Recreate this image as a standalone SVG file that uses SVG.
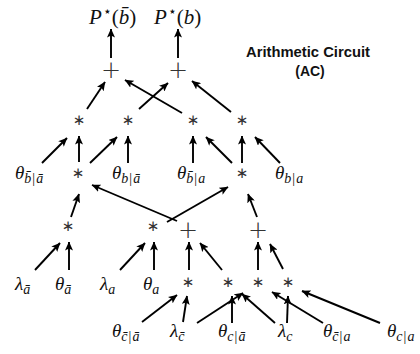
<svg xmlns="http://www.w3.org/2000/svg" width="420" height="354" viewBox="0 0 420 354">
<style>
.m{font-family:"Liberation Serif","DejaVu Serif",serif;fill:#111}
.v{font-size:19px}
.i{font-style:italic}
.s{font-size:14px;letter-spacing:1px}
.op{font-family:"DejaVu Sans","Liberation Sans",sans-serif;font-size:15px;fill:#333;text-anchor:middle;dominant-baseline:central}
.pl{font-family:"DejaVu Sans","Liberation Sans",sans-serif;font-weight:300;font-size:24px;fill:#333;text-anchor:middle;dominant-baseline:central}
.t{font-family:"Liberation Sans","Arial",sans-serif;font-weight:bold;font-size:14px;fill:#111;text-anchor:middle}
.e line{stroke:#000;stroke-width:1.9;marker-end:url(#ah)}
</style>
<defs>
<marker id="ah" markerUnits="userSpaceOnUse" markerWidth="9" markerHeight="8" refX="8.5" refY="4" orient="auto">
<path d="M0,0 L9,4 L0,8 L2,4 z" fill="#000"/>
</marker>
</defs>
<rect width="420" height="354" fill="#fff"/>
<g id="title">
<text class="t" x="308" y="57" textLength="124" lengthAdjust="spacingAndGlyphs">Arithmetic Circuit</text>
<text class="t" x="310" y="76">(AC)</text>
</g>
<g id="Pnb"><text class="m" x="89" y="24" font-size="21"><tspan class="i">P</tspan><tspan font-size="14" dx="1" dy="-8">⋆</tspan><tspan dy="8">(</tspan><tspan class="i">b̄</tspan>)</text></g>
<g id="Pb"><text class="m" x="154" y="24" font-size="21"><tspan class="i">P</tspan><tspan font-size="14" dx="1" dy="-8">⋆</tspan><tspan dy="8">(</tspan><tspan class="i">b</tspan>)</text></g>
<g id="plus1"><text class="pl" x="111" y="70">+</text></g>
<g id="plus2"><text class="pl" x="178" y="70">+</text></g>
<g id="m1a"><text class="op" x="79" y="120">∗</text></g>
<g id="m1b"><text class="op" x="128" y="120">∗</text></g>
<g id="m1c"><text class="op" x="193" y="120">∗</text></g>
<g id="m1d"><text class="op" x="242" y="120">∗</text></g>
<g id="m2a"><text class="op" x="78" y="173">∗</text></g>
<g id="m2b"><text class="op" x="242" y="173">∗</text></g>
<g id="m3a"><text class="op" x="68" y="226">∗</text></g>
<g id="m3b"><text class="op" x="153" y="226">∗</text></g>
<g id="plus3"><text class="pl" x="188" y="230">+</text></g>
<g id="plus4"><text class="pl" x="258" y="230">+</text></g>
<g id="m4a"><text class="op" x="188" y="282">∗</text></g>
<g id="m4b"><text class="op" x="228" y="282">∗</text></g>
<g id="m4c"><text class="op" x="258" y="282">∗</text></g>
<g id="m4d"><text class="op" x="288" y="282">∗</text></g>
<g id="th_nb_na"><text class="m v" x="15" y="179"><tspan class="i">θ</tspan><tspan class="s" dy="4"><tspan class="i">b̄</tspan>|<tspan class="i">ā</tspan></tspan></text></g>
<g id="th_b_na"><text class="m v" x="112" y="179"><tspan class="i">θ</tspan><tspan class="s" dy="4"><tspan class="i">b</tspan>|<tspan class="i">ā</tspan></tspan></text></g>
<g id="th_nb_a"><text class="m v" x="177" y="179"><tspan class="i">θ</tspan><tspan class="s" dy="4"><tspan class="i">b̄</tspan>|<tspan class="i">a</tspan></tspan></text></g>
<g id="th_b_a"><text class="m v" x="275" y="179"><tspan class="i">θ</tspan><tspan class="s" dy="4"><tspan class="i">b</tspan>|<tspan class="i">a</tspan></tspan></text></g>
<g id="la_na"><text class="m v" x="15" y="290"><tspan class="i">λ</tspan><tspan class="s i" dy="4">ā</tspan></text></g>
<g id="th_na"><text class="m v" x="55" y="290"><tspan class="i">θ</tspan><tspan class="s i" dy="4">ā</tspan></text></g>
<g id="la_a"><text class="m v" x="100" y="290"><tspan class="i">λ</tspan><tspan class="s i" dy="4">a</tspan></text></g>
<g id="th_a"><text class="m v" x="143" y="290"><tspan class="i">θ</tspan><tspan class="s i" dy="4">a</tspan></text></g>
<g id="th_nc_na"><text class="m v" x="112" y="337"><tspan class="i">θ</tspan><tspan class="s" dy="4"><tspan class="i">c̄</tspan>|<tspan class="i">ā</tspan></tspan></text></g>
<g id="la_nc"><text class="m v" x="170" y="337"><tspan class="i">λ</tspan><tspan class="s i" dy="4">c̄</tspan></text></g>
<g id="th_c_na"><text class="m v" x="218" y="337"><tspan class="i">θ</tspan><tspan class="s" dy="4"><tspan class="i">c</tspan>|<tspan class="i">ā</tspan></tspan></text></g>
<g id="la_c"><text class="m v" x="278" y="337"><tspan class="i">λ</tspan><tspan class="s i" dy="4">c</tspan></text></g>
<g id="th_nc_a"><text class="m v" x="323" y="337"><tspan class="i">θ</tspan><tspan class="s" dy="4"><tspan class="i">c̄</tspan>|<tspan class="i">a</tspan></tspan></text></g>
<g id="th_c_a"><text class="m v" x="387" y="337"><tspan class="i">θ</tspan><tspan class="s" dy="4"><tspan class="i">c</tspan>|<tspan class="i">a</tspan></tspan></text></g>
<g id="edges" class="e">
<line x1="111" y1="58" x2="111" y2="29"/>
<line x1="178" y1="58" x2="178" y2="29"/>
<line x1="87" y1="109" x2="105" y2="82"/>
<line x1="182" y1="113" x2="125" y2="80"/>
<line x1="139" y1="109" x2="168" y2="83"/>
<line x1="231" y1="112" x2="192" y2="81"/>
<line x1="42" y1="163" x2="67" y2="138"/>
<line x1="79" y1="162" x2="79" y2="136"/>
<line x1="90" y1="163" x2="117" y2="137"/>
<line x1="128" y1="163" x2="128" y2="136"/>
<line x1="193" y1="163" x2="193" y2="136"/>
<line x1="232" y1="163" x2="206" y2="137"/>
<line x1="242" y1="163" x2="242" y2="136"/>
<line x1="280" y1="163" x2="255" y2="137"/>
<line x1="71" y1="217" x2="79" y2="194"/>
<line x1="177" y1="221" x2="92" y2="185"/>
<line x1="167" y1="222" x2="228" y2="187"/>
<line x1="257" y1="217" x2="248" y2="194"/>
<line x1="35" y1="270" x2="60" y2="243"/>
<line x1="69" y1="270" x2="69" y2="242"/>
<line x1="120" y1="270" x2="145" y2="243"/>
<line x1="154" y1="270" x2="154" y2="242"/>
<line x1="189" y1="270" x2="189" y2="242"/>
<line x1="222" y1="270" x2="200" y2="243"/>
<line x1="258" y1="270" x2="258" y2="242"/>
<line x1="283" y1="269" x2="270" y2="244"/>
<line x1="142" y1="322" x2="177" y2="295"/>
<line x1="183" y1="322" x2="187" y2="296"/>
<line x1="197" y1="323" x2="243" y2="293"/>
<line x1="232" y1="323" x2="232" y2="296"/>
<line x1="275" y1="323" x2="242" y2="294"/>
<line x1="287" y1="323" x2="288" y2="296"/>
<line x1="323" y1="323" x2="272" y2="292"/>
<line x1="380" y1="323" x2="302" y2="291"/>
</g>
</svg>
